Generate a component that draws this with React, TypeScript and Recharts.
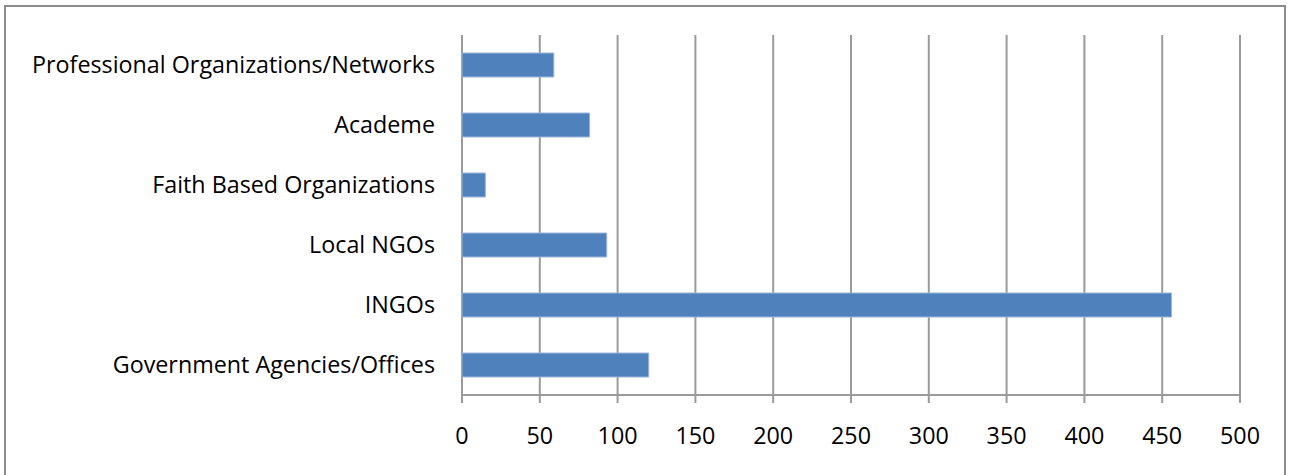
import { BarChart, Bar, XAxis, YAxis, CartesianGrid } from "recharts";

// Organisations by type (counts)
const categories = [
  "Professional Organizations/Networks",
  "Academe",
  "Faith Based Organizations",
  "Local NGOs",
  "INGOs",
  "Government Agencies/Offices",
];
const counts = [59, 82, 15, 93, 456, 120];
const xTicks = [0, 50, 100, 150, 200, 250, 300, 350, 400, 450, 500];
// band edges for the category axis tick marks
const edgeTicks = [0, 1, 2, 3, 4, 5, 6];

const data = categories.map((name, i) => ({ name, value: counts[i] }));

const FONT = "'Open Sans', sans-serif";
const GRID = "#9a9a9a";

export default function App() {
  return (
    <div style={{ position: "absolute", left: 0, top: 0, width: 1289, height: 475, overflow: "hidden", background: "#fff" }}>
      <div
        style={{
          position: "absolute",
          left: 4,
          top: 5,
          width: 1282,
          height: 500,
          border: "2px solid #8c8c8c",
          boxSizing: "border-box",
        }}
      />
      <BarChart
        width={1289}
        height={475}
        data={data}
        layout="vertical"
        margin={{ top: 35, right: 49, bottom: 0, left: 0 }}
        barCategoryGap="30%"
        style={{ position: "absolute", left: 0, top: 0, fontFamily: FONT }}
      >
        <CartesianGrid horizontal={false} stroke={GRID} strokeWidth={2} yAxisId="cat" />
        <XAxis
          type="number"
          domain={[0, 500]}
          ticks={xTicks}
          interval={0}
          height={80}
          tickSize={8}
          tickMargin={24}
          axisLine={{ stroke: GRID, strokeWidth: 2 }}
          tickLine={{ stroke: GRID, strokeWidth: 2 }}
          tick={{ fill: "#000", fontSize: 23.3, fontFamily: FONT }}
        />
        <YAxis
          yAxisId="edges"
          type="number"
          domain={[0, 6]}
          ticks={edgeTicks}
          width={0}
          tick={false}
          tickSize={8}
          axisLine={{ stroke: GRID, strokeWidth: 2 }}
          tickLine={{ stroke: GRID, strokeWidth: 2 }}
        />
        <YAxis
          yAxisId="cat"
          type="category"
          dataKey="name"
          width={462}
          interval={0}
          tickLine={false}
          axisLine={false}
          tickSize={8}
          tickMargin={19}
          tick={{ fill: "#000", fontSize: 23.3, fontFamily: FONT }}
        />
        <Bar
          yAxisId="cat"
          dataKey="value"
          fill="#4f81bd"
          stroke="#9bb5d9"
          strokeWidth={1}
          isAnimationActive={false}
        />
      </BarChart>
    </div>
  );
}
